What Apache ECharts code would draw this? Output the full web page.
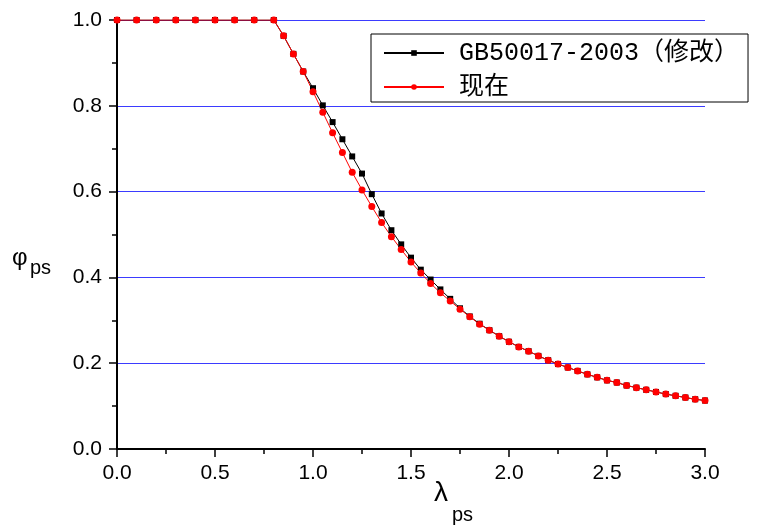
<!DOCTYPE html>
<html>
<head>
<meta charset="utf-8">
<style>html,body{margin:0;padding:0;background:#fff;}#c{width:761px;height:525px;}</style>
<script src="https://cdn.jsdelivr.net/npm/echarts@6/dist/echarts.min.js"></script>
</head>
<body>
<div id="c"></div>
<script>
// x values (lambda_ps)
const lambdaValues = [0, 0.1, 0.2, 0.3, 0.4, 0.5, 0.6, 0.7, 0.8,
  0.85, 0.9, 0.95, 1.0, 1.05, 1.1, 1.15, 1.2, 1.25, 1.3, 1.35, 1.4, 1.45, 1.5, 1.55, 1.6,
  1.65, 1.7, 1.75, 1.8, 1.85, 1.9, 1.95, 2.0, 2.05, 2.1, 2.15, 2.2, 2.25, 2.3, 2.35, 2.4,
  2.45, 2.5, 2.55, 2.6, 2.65, 2.7, 2.75, 2.8, 2.85, 2.9, 2.95, 3.0];
// GB50017-2003 (修改)
const gbValues = [1, 1, 1, 1, 1, 1, 1, 1, 1,
  0.963, 0.921, 0.880, 0.841, 0.801, 0.762, 0.722, 0.682, 0.642, 0.594, 0.549, 0.510, 0.477, 0.446, 0.418, 0.395,
  0.372, 0.350, 0.328, 0.309, 0.292, 0.277, 0.263, 0.250, 0.238, 0.228, 0.217, 0.207, 0.198, 0.190, 0.182, 0.174,
  0.167, 0.160, 0.155, 0.148, 0.143, 0.138, 0.133, 0.128, 0.124, 0.120, 0.116, 0.113];
// 现在
const nowValues = [1, 1, 1, 1, 1, 1, 1, 1, 1,
  0.963, 0.921, 0.880, 0.833, 0.785, 0.737, 0.691, 0.645, 0.604, 0.565, 0.528, 0.495, 0.465, 0.436, 0.410, 0.386,
  0.364, 0.345, 0.326, 0.308, 0.291, 0.277, 0.263, 0.250, 0.238, 0.228, 0.217, 0.207, 0.198, 0.190, 0.182, 0.174,
  0.167, 0.160, 0.155, 0.148, 0.143, 0.138, 0.133, 0.128, 0.124, 0.120, 0.116, 0.113];
const seriesNames = ['GB50017-2003（修改）', '现在'];

const pairs = (ys) => lambdaValues.map((x, i) => [x, ys[i]]);
const labelFont = { fontFamily: 'Liberation Sans, Arial, sans-serif', fontSize: 21, color: '#000' };

const chart = echarts.init(document.getElementById('c'), null, { renderer: 'canvas' });
chart.setOption({
  backgroundColor: '#fff',
  animation: false,
  grid: { left: 117, right: 56, top: 20, bottom: 76 },
  xAxis: {
    type: 'value', min: 0, max: 3, interval: 0.5,
    axisLine: { show: true, onZero: false, lineStyle: { color: '#000', width: 2 } },
    axisTick: { show: true, inside: false, length: 8, lineStyle: { color: '#000', width: 1.5 } },
    minorTick: { show: true, splitNumber: 2, length: 5, lineStyle: { color: '#000', width: 1.5 } },
    splitLine: { show: false },
    axisLabel: Object.assign({ margin: 14, formatter: v => v.toFixed(1) }, labelFont)
  },
  yAxis: {
    type: 'value', min: 0, max: 1, interval: 0.2,
    axisLine: { show: true, onZero: false, lineStyle: { color: '#000', width: 2 } },
    axisTick: { show: true, inside: false, length: 8, lineStyle: { color: '#000', width: 1.5 } },
    minorTick: { show: true, splitNumber: 2, length: 5, lineStyle: { color: '#000', width: 1.5 } },
    splitLine: { show: true, lineStyle: { color: '#3b3bff', width: 1.2 } },
    axisLabel: Object.assign({ margin: 15, formatter: v => v.toFixed(1) }, labelFont)
  },
  legend: {
    orient: 'vertical', left: 371, top: 34,
    padding: [5, 9, 1, 12], itemGap: 6, itemWidth: 60, itemHeight: 7,
    borderColor: '#000', borderWidth: 1, backgroundColor: '#fff',
    textStyle: { fontFamily: 'Liberation Mono, Noto Sans CJK SC, monospace', fontSize: 25, lineHeight: 28, color: '#000', padding: [0, 0, 0, 10] },
    data: seriesNames
  },
  series: [
    {
      name: seriesNames[0], type: 'line', data: pairs(gbValues),
      symbol: 'rect', symbolSize: 6, showSymbol: true,
      lineStyle: { color: '#000', width: 1 }, itemStyle: { color: '#000' }
    },
    {
      name: seriesNames[1], type: 'line', data: pairs(nowValues),
      symbol: 'circle', symbolSize: 7, showSymbol: true,
      lineStyle: { color: '#ff0000', width: 1 }, itemStyle: { color: '#ff0000' }
    }
  ],
  graphic: [
    { type: 'text', left: 12, top: 246, style: { text: 'φ', font: '24px Liberation Sans, Arial, sans-serif', fill: '#000' } },
    { type: 'text', left: 30, top: 258, style: { text: 'ps', font: '20px Liberation Sans, Arial, sans-serif', fill: '#000' } },
    { type: 'text', left: 434, top: 479, style: { text: 'λ', font: '28px Liberation Sans, Arial, sans-serif', fill: '#000' } },
    { type: 'text', left: 452, top: 505, style: { text: 'ps', font: '20px Liberation Sans, Arial, sans-serif', fill: '#000' } }
  ]
});
</script>
</body>
</html>
